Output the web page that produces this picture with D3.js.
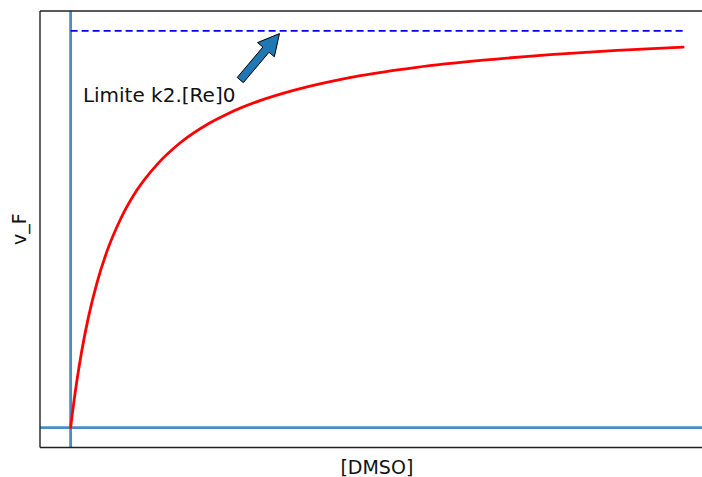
<!DOCTYPE html>
<html>
<head>
<meta charset="utf-8">
<script src="https://cdn.jsdelivr.net/npm/d3@7"></script>
<style>
  html, body { margin: 0; padding: 0; background: #fff; }
  svg { display: block; font-family: "DejaVu Sans", sans-serif; }
</style>
</head>
<body>
<svg id="chart" width="702" height="477"></svg>
<script>
// ---- data ----
const dmso = [0, 0.02, 0.06, 0.1, 0.18, 0.29, 0.43, 0.59, 0.81, 1.08, 1.41, 1.79, 2.25, 2.55, 3.09, 3.64, 4.18, 4.73, 5.65, 6.74, 7.83, 8.92, 10];
const vF   = [0, 0.026, 0.073, 0.116, 0.192, 0.278, 0.365, 0.443, 0.524, 0.598, 0.663, 0.718, 0.766, 0.790, 0.824, 0.850, 0.870, 0.887, 0.908, 0.926, 0.940, 0.951, 0.959];
const limitValue = 1.0;          // k2.[Re]0 asymptote
const limitRange = [0, 10];      // x extent of the dashed limit line
const axisZeroX = 0;             // vertical reference line
const axisZeroY = 0;             // horizontal reference line
const annText = "Limite k2.[Re]0";
const annTextPos = [0.2, 0.821];
const arrowTail = [2.77, 0.876];
const arrowTip  = [3.41, 0.993];
const xLabel = "[DMSO]";
const yLabel = "v_F";

// ---- layout ----
const svg = d3.select("#chart");
const frame = { left: 40, right: 713.75, top: 11, bottom: 447.5 };
const x = d3.scaleLinear().domain([-0.5, 10.5]).range([frame.left, frame.right]);
const y = d3.scaleLinear().domain([-0.05, 1.05]).range([frame.bottom, frame.top]);

const blue = "#4a8ec4";

// reference lines
svg.append("line")
  .attr("x1", frame.left).attr("x2", frame.right)
  .attr("y1", y(axisZeroY)).attr("y2", y(axisZeroY))
  .attr("stroke", blue).attr("stroke-width", 2.8);
svg.append("line")
  .attr("x1", x(axisZeroX)).attr("x2", x(axisZeroX))
  .attr("y1", frame.top).attr("y2", frame.bottom)
  .attr("stroke", blue).attr("stroke-width", 2.8);

// dashed limit line
svg.append("line")
  .attr("x1", x(limitRange[0])).attr("x2", x(limitRange[1]))
  .attr("y1", y(limitValue)).attr("y2", y(limitValue))
  .attr("stroke", "#0000ff").attr("stroke-width", 1.6)
  .attr("stroke-dasharray", "7,4");

// curve
const pts = dmso.map((d, i) => [d, vF[i]]);
svg.append("path")
  .datum(pts)
  .attr("fill", "none")
  .attr("stroke", "#ff0000")
  .attr("stroke-width", 2.8)
  .attr("stroke-linecap", "round")
  .attr("stroke-linejoin", "round")
  .attr("d", d3.line().x(d => x(d[0])).y(d => y(d[1])).curve(d3.curveMonotoneX));

// spines
const spine = svg.append("g").attr("stroke", "#222").attr("stroke-width", 1.4).attr("fill", "none");
spine.append("line").attr("x1", frame.left).attr("x2", frame.left).attr("y1", frame.top).attr("y2", frame.bottom);
spine.append("line").attr("x1", frame.left).attr("x2", frame.right).attr("y1", frame.top).attr("y2", frame.top);
spine.append("line").attr("x1", frame.left).attr("x2", frame.right).attr("y1", frame.bottom).attr("y2", frame.bottom);
spine.append("line").attr("x1", frame.right).attr("x2", frame.right).attr("y1", frame.top).attr("y2", frame.bottom);

// arrow
(function () {
  const tx = x(arrowTail[0]), ty = y(arrowTail[1]);
  const hx = x(arrowTip[0]), hy = y(arrowTip[1]);
  const dx = hx - tx, dy = hy - ty, L = Math.hypot(dx, dy);
  const ux = dx / L, uy = dy / L, nx = -uy, ny = ux;
  const sw = 4, hw = 11, hl = 21;
  const bx = hx - ux * hl, by = hy - uy * hl;
  const p = [
    [tx + nx * sw, ty + ny * sw],
    [bx + nx * sw, by + ny * sw],
    [bx + nx * hw, by + ny * hw],
    [hx, hy],
    [bx - nx * hw, by - ny * hw],
    [bx - nx * sw, by - ny * sw],
    [tx - nx * sw, ty - ny * sw]
  ];
  svg.append("path")
    .attr("d", "M" + p.map(q => q.join(",")).join("L") + "Z")
    .attr("fill", "#1f77b4").attr("stroke", "#000").attr("stroke-width", 1)
    .attr("stroke-linejoin", "miter");
})();

// annotation text
svg.append("text")
  .attr("x", x(annTextPos[0])).attr("y", y(annTextPos[1]))
  .attr("font-size", 20).attr("fill", "#111")
  .text(annText);

// axis labels
svg.append("text")
  .attr("x", (frame.left + frame.right) / 2).attr("y", 474)
  .attr("text-anchor", "middle").attr("font-size", 19).attr("fill", "#111")
  .text(xLabel);
svg.append("text")
  .attr("transform", `translate(26, ${(frame.top + frame.bottom) / 2}) rotate(-90)`)
  .attr("text-anchor", "middle").attr("font-size", 19).attr("fill", "#111")
  .text(yLabel);
</script>
</body>
</html>
